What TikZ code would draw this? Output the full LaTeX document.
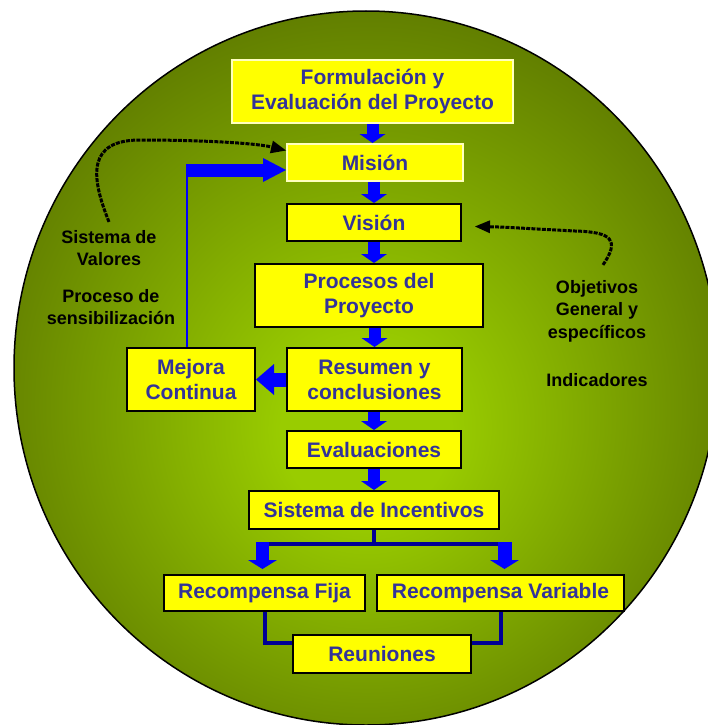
\documentclass[tikz,border=0pt]{standalone}
\usepackage{fontspec}
\setmainfont{Liberation Sans}
\usetikzlibrary{arrows.meta}
\definecolor{stageyellow}{RGB}{255,255,0}
\definecolor{stagetext}{RGB}{51,51,153}
\definecolor{paleedge}{RGB}{255,255,190}
\definecolor{arrowblue}{RGB}{0,0,255}
\definecolor{branchblue}{RGB}{0,0,150}
\definecolor{olivecore}{RGB}{153,204,0}
\definecolor{oliverim}{RGB}{70,88,0}
\pgfdeclareradialshading{discshade}{\pgfpoint{0bp}{-5bp}}{color(0bp)=(olivecore); color(6bp)=(olivecore); color(38bp)=(oliverim); color(50bp)=(oliverim)}
\newcommand{\stagefont}{\fontsize{21}{25}\selectfont\bfseries}
\newcommand{\notefont}{\fontsize{18}{22.5}\selectfont\bfseries}

\begin{document}
\begin{tikzpicture}[x=1pt, y=-1pt,
    stage/.style={rectangle, draw=black, line width=2pt, fill=stageyellow, text=stagetext, font=\stagefont, align=center, inner sep=0pt},
    note/.style={font=\notefont, align=center, inner sep=2pt},
    flow/.style={draw=arrowblue, line width=12pt, -{Triangle[width=26pt,length=9pt,line width=0pt]}},
    branch/.style={draw=branchblue, line width=4pt},
    feedback/.style={draw=arrowblue, line width=2pt},
    hint/.style={draw=black, line width=3pt, dash pattern=on 4pt off 1.2pt, -{Triangle[width=13pt,length=15pt,line width=0pt]}}
]
    \useasboundingbox (0,0) rectangle (708,725);
    \clip (0,0) rectangle (708,725);

    % disc
    \shade[shading=discshade] (366,368) ellipse [x radius=352, y radius=357];
    \draw[black, line width=1.5pt] (366,368) ellipse [x radius=352, y radius=357];

    \node[stage, draw=paleedge, minimum width=281pt, minimum height=63pt] (form) at (372.5,91.5) {Formulación y\\Evaluación del Proyecto};
    \node[stage, draw=paleedge, minimum width=176pt, minimum height=37pt] (mision) at (375,162.5) {Misión};
    \node[stage, minimum width=174pt, minimum height=37pt] (vision) at (374,222.5) {Visión};
    \node[stage, minimum width=228pt, minimum height=63pt] (procesos) at (369,295.5) {Procesos del\\Proyecto};
    \node[stage, minimum width=128pt, minimum height=63pt] (mejora) at (191,379.5) {Mejora\\Continua};
    \node[stage, minimum width=175pt, minimum height=63pt] (resumen) at (374.5,379.5) {Resumen y\\conclusiones};
    \node[stage, minimum width=174pt, minimum height=37pt] (evaluac) at (374,449.5) {Evaluaciones};
    \node[stage, minimum width=250pt, minimum height=38pt] (incent) at (374,510) {Sistema de Incentivos};
    \node[stage, minimum width=201pt, minimum height=36pt] (fija) at (264.5,593) {Recompensa Fija};
    \node[stage, minimum width=247pt, minimum height=36pt] (variable) at (500.5,593) {Recompensa Variable};
    \node[stage, minimum width=178pt, minimum height=38pt] (reun) at (382,654) {Reuniones};

    \node[note] (valores) at (109,248) {Sistema de\\Valores};
    \node[note] (sensib) at (111,307) {Proceso de\\sensibilización};
    \node[note] (objetivos) at (597,311) {Objetivos\\General y\\específicos};
    \node[note] (indicad) at (597,380) {Indicadores};

    % main column
    \draw[flow] (form.south) -- (form.south |- mision.north);
    \draw[flow] (mision.south -| vision.north) -- (vision.north);
    \draw[flow] (vision.south) -- (vision.south |- procesos.north);
    \draw[flow] (procesos.south -| resumen.north) -- (resumen.north);
    \draw[flow] (resumen.south -| evaluac.north) -- (evaluac.north);
    \draw[flow] (evaluac.south) -- (incent.north);

    % mejora continua loop
    \draw[flow, line width=14pt, -{Triangle[width=31pt,length=18pt,line width=0pt]}] (resumen.west) -- (mejora.east);
    \coordinate (turn) at (187,170);
    \draw[feedback] (turn |- mejora.north) -- (turn);
    \draw[flow, line width=13pt, -{Triangle[width=24pt,length=23pt,line width=0pt]}] ([xshift=-1pt]turn) -- (turn -| mision.west);

    % incentives
    \coordinate (splitL) at (262.5,544);
    \coordinate (splitR) at (504.5,544);
    \path (fija.north -| splitL) coordinate (tipL);
    \path (variable.north -| splitR) coordinate (tipR);
    \draw[branch] (incent.south) -- (incent.south |- splitL);
    \draw[branch] ([xshift=-6.5pt]splitL) -- (splitR);
    \draw[flow, line width=13pt, -{Triangle[width=29pt,length=9pt,line width=0pt]}] ([yshift=2pt]splitL) -- ([yshift=5pt]tipL);
    \draw[flow, line width=14pt, -{Triangle[width=29pt,length=9pt,line width=0pt]}] ([yshift=2pt]splitR) -- ([yshift=5pt]tipR);
    \draw[branch] (fija.south) |- ([yshift=11pt]reun.west);
    \draw[branch] (variable.south) |- ([yshift=11pt]reun.east);

    % dotted hints
    \draw[hint] ([yshift=6pt]valores.north) .. controls (90,175) and (88,140) .. (140,140) .. controls (200,140) and (255,143) .. ([yshift=12pt]mision.west);
    \draw[hint] ([xshift=6pt,yshift=13pt]objetivos.north) .. controls (620,240) and (612,232) .. (575,231) .. controls (535,229) and (505,227) .. ([xshift=13pt,yshift=-4pt]vision.east);
\end{tikzpicture}
\end{document}
